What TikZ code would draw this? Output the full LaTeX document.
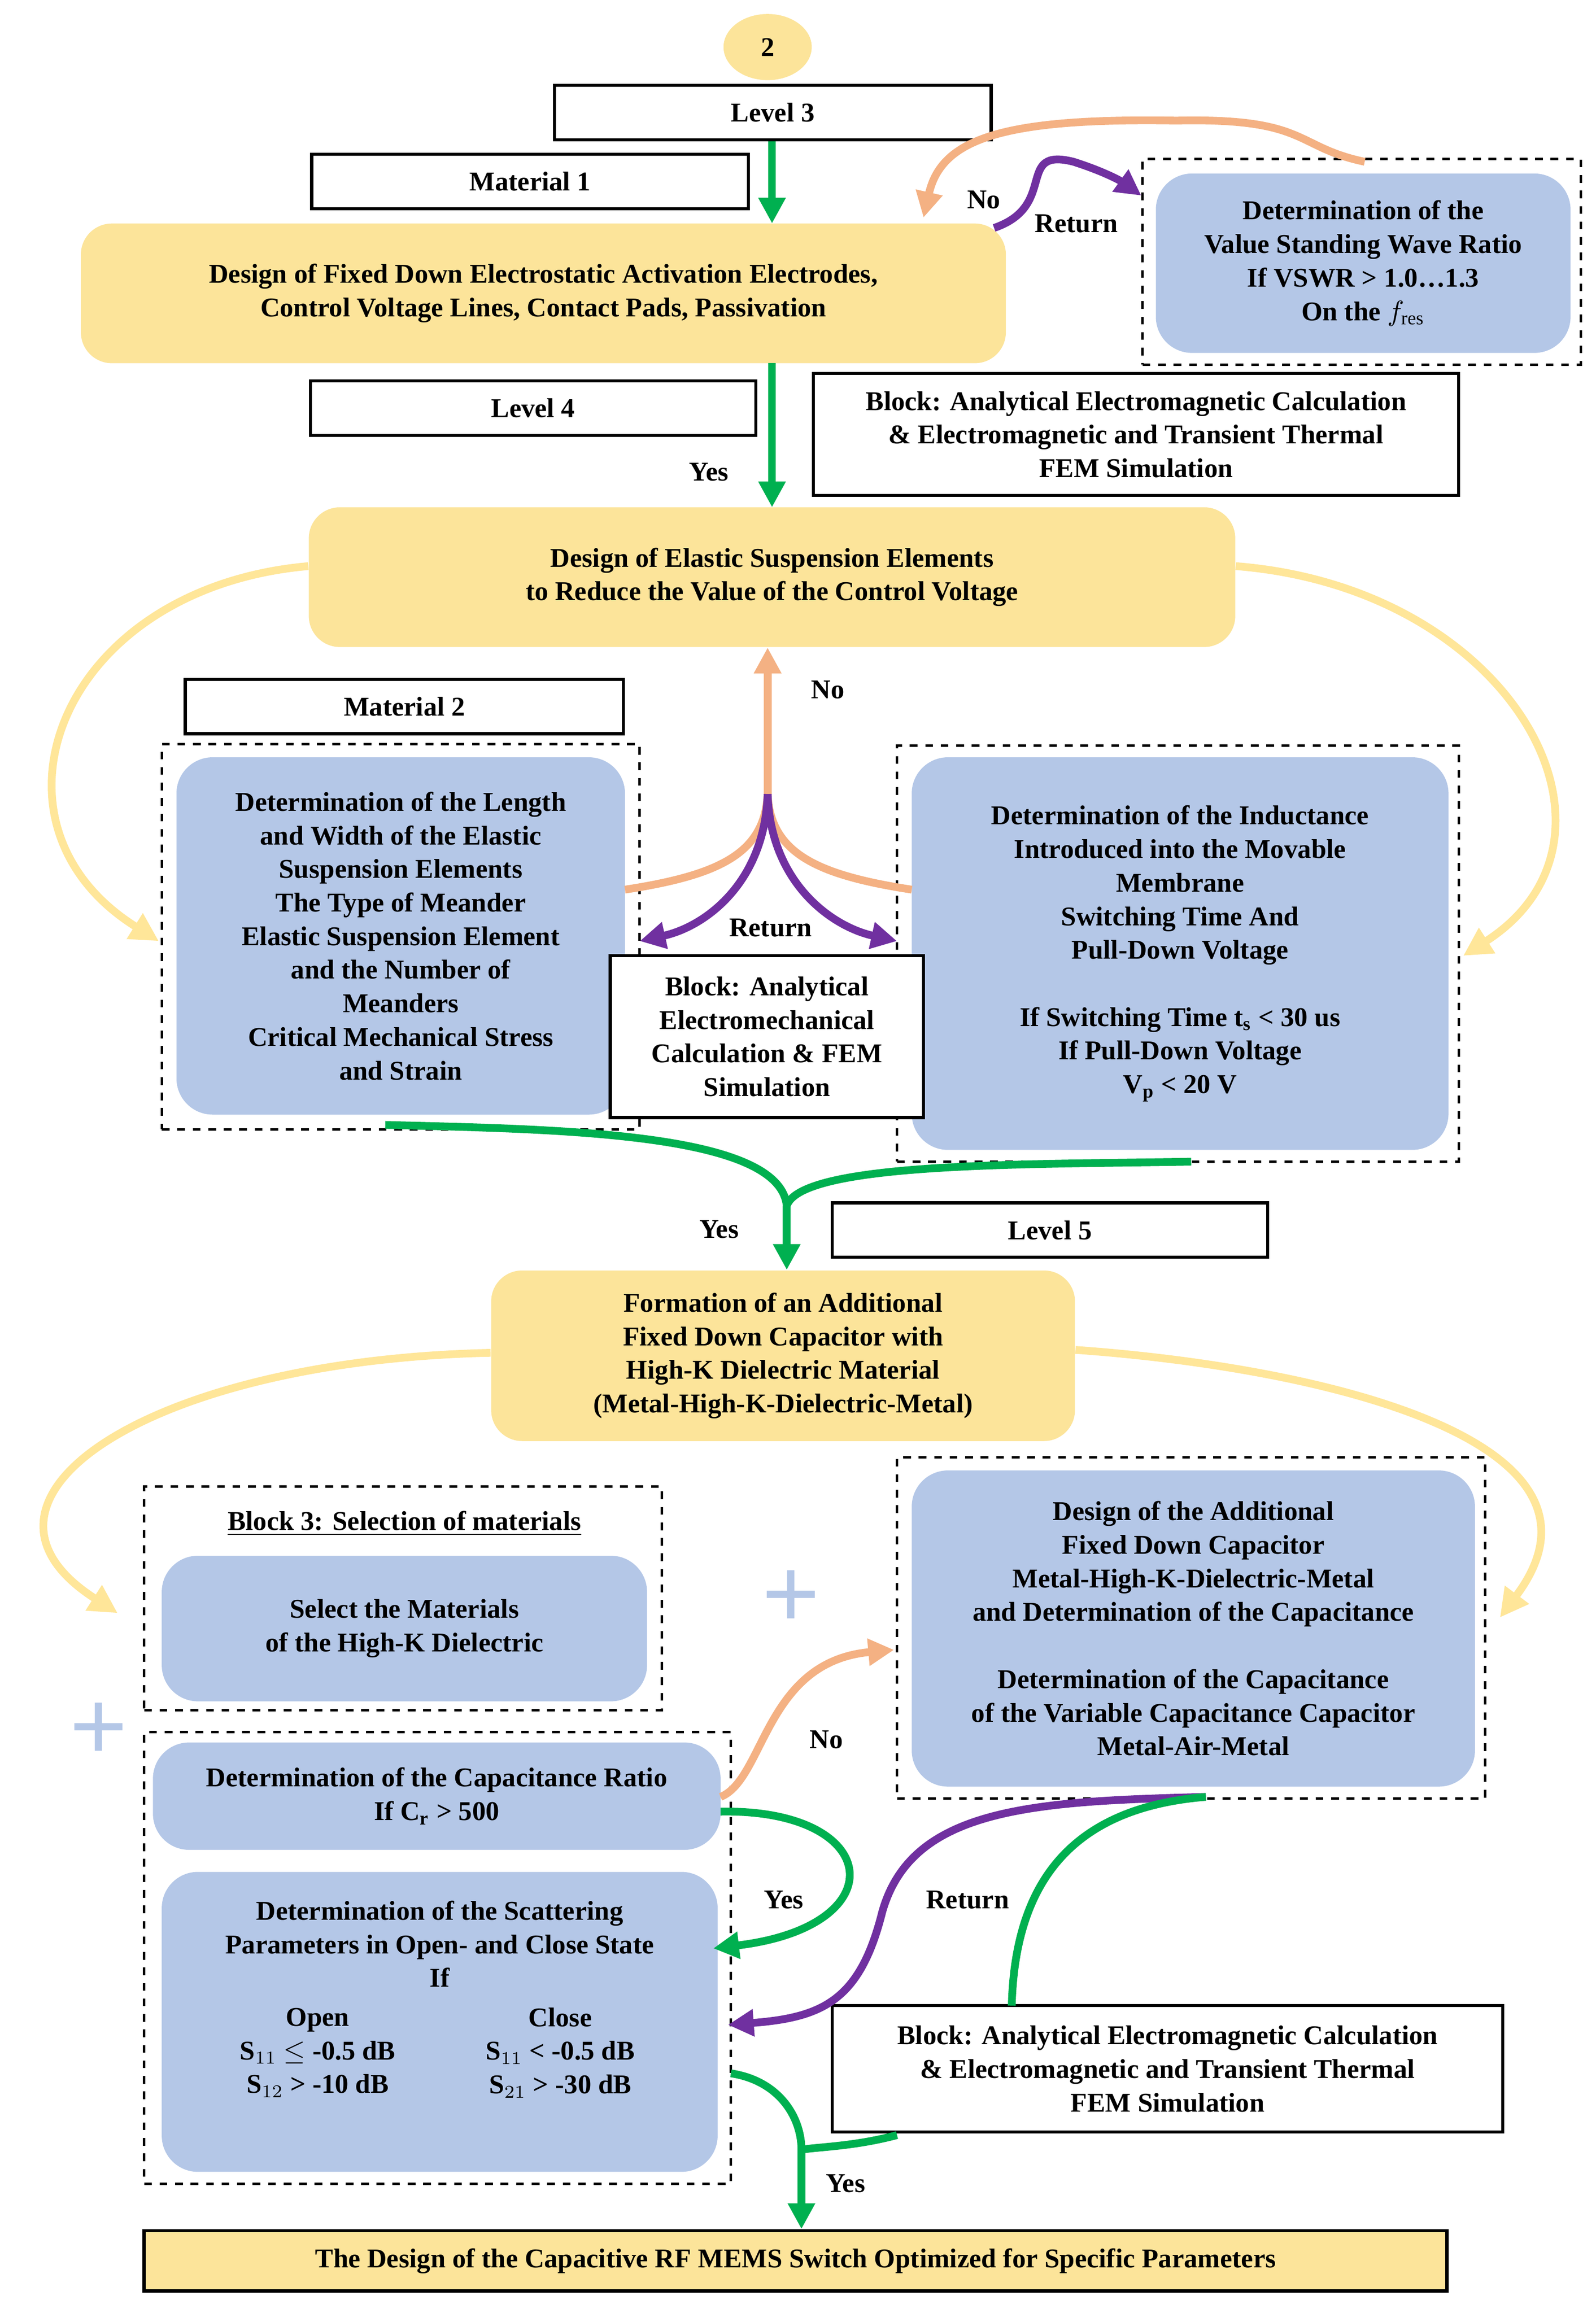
\documentclass[tikz,border=0pt]{standalone}
\usepackage{fontspec}
\setmainfont{Liberation Serif}
\usetikzlibrary{fit,arrows.meta,shapes.geometric}
\definecolor{ylw}{HTML}{FCE49A}
\definecolor{blu}{HTML}{B4C7E7}
\definecolor{grn}{HTML}{00B050}
\definecolor{org}{HTML}{F4B183}
\definecolor{pur}{HTML}{7030A0}
\definecolor{lyl}{HTML}{FFE699}
\newcommand\BX[7]{\node[fit={(#2,#3)(#4,#5)},inner sep=0pt,#6] (#1) {};\node[txt] at (#1.center) {#7};}
\begin{document}
\begin{tikzpicture}[x=0.02cm,y=-0.02cm,
 txt/.style={align=center,font=\fontsize{10.5}{13}\selectfont\bfseries},
 lab/.style={font=\fontsize{10.5}{13}\selectfont\bfseries},
 wb/.style={draw=black,line width=1.2pt,fill=white},
 yb/.style={fill=ylw,rounded corners=12pt},
 bb/.style={fill=blu,rounded corners=14pt},
 db/.style={draw=black,dashed,line width=1pt},
 ga/.style={draw=grn,line width=3pt,-{Triangle[length=10pt,width=10pt]}},
 gl/.style={draw=grn,line width=3pt},
 oa/.style={draw=org,line width=3pt,-{Triangle[length=10pt,width=10pt]}},
 ol/.style={draw=org,line width=3pt},
 pa/.style={draw=pur,line width=3pt,-{Triangle[length=10pt,width=10pt]}},
 ya/.style={draw=lyl,line width=3pt,-{Triangle[length=11pt,width=11pt]}},
 ]
\useasboundingbox[fill=white] (0,0) rectangle (1085,1573);
% top
\node[fill=ylw,ellipse,minimum width=1.2cm,minimum height=0.9cm,lab] (c2) at (522,32) {2};
\BX{l3}{377}{58}{674}{95}{wb}{Level 3}
\BX{m1}{212}{105}{509}{142}{wb}{Material 1}
\BX{y1}{55}{152}{684}{247}{yb}{Design of Fixed Down Electrostatic Activation Electrodes,\\Control Voltage Lines, Contact Pads, Passivation}
\BX{d1}{777}{108}{1075}{248}{db}{}
\BX{v1}{786}{118}{1068}{240}{bb}{Determination of the\\Value Standing Wave Ratio\\If VSWR > 1.0\ldots1.3\\On the $f_{\mathrm{res}}$}
\BX{l4}{211}{259}{514}{296}{wb}{Level 4}
\BX{bk1}{553}{254}{992}{337}{wb}{Block: Analytical Electromagnetic Calculation\\\& Electromagnetic and Transient Thermal\\FEM Simulation}
\node[lab] at (482,321) {Yes};
\draw[ga] (l3.south -| 525,0) -- (525,152);
\draw[ga] (525,247) -- (525,345);
\coordinate (o1) at (928,110);
\draw[oa] (o1) .. controls (880,100) and (890,80) .. (800,82) .. controls (680,80) and (640,95) .. (628,148);
\coordinate (p1) at (676,155);
\draw[pa] (p1) .. controls (720,140) and (690,100) .. (730,110) .. controls (755,118) and (765,125) .. (d1.west |- 0,133);
\node[lab] at (669,136) {No};
\node[lab] at (732,152) {Return};
% level 2
\BX{y2}{210}{345}{840}{440}{yb}{Design of Elastic Suspension Elements\\to Reduce the Value of the Control Voltage}
\draw[ya] (y2.west |- 0,385) .. controls (40,400) and (-20,560) .. (108,640);
\draw[ya] (y2.east |- 0,385) .. controls (1030,400) and (1120,570) .. (995,650);
\BX{m2}{126}{462}{424}{499}{wb}{Material 2}
\BX{d2}{110}{506}{435}{768}{db}{}
\BX{b2}{120}{515}{425}{758}{bb}{Determination of the Length\\and Width of the Elastic\\Suspension Elements\\The Type of Meander\\Elastic Suspension Element\\and the Number of\\Meanders\\Critical Mechanical Stress\\and Strain}
\BX{d3}{610}{507}{992}{790}{db}{}
\BX{b3}{620}{515}{985}{782}{bb}{Determination of the Inductance\\Introduced into the Movable\\Membrane\\Switching Time And\\Pull-Down Voltage\\[13pt]If Switching Time $\mathbf{t_s}$ < 30 us\\If Pull-Down Voltage\\$\mathbf{V_p}$ < 20 V}
\BX{bk2}{415}{650}{628}{760}{wb}{Block: Analytical\\Electromechanical\\Calculation \& FEM\\Simulation}
\coordinate (j1) at (522,540);
\draw[ol] (425,605) .. controls (490,595) and (520,580) .. (j1);
\draw[ol] (620,605) .. controls (555,595) and (524,580) .. (j1);
\draw[oa] (j1) -- (y2.south -| j1);
\node[lab] at (563,469) {No};
\draw[pa] (j1) .. controls (520,600) and (480,630) .. (435,640);
\draw[pa] (j1) .. controls (524,600) and (565,630) .. (610,640);
\node[lab] at (524,631) {Return};
\coordinate (j2) at (535,820);
\draw[gl] (262,765) .. controls (380,768) and (530,770) .. (j2);
\draw[gl] (810,790) .. controls (700,792) and (545,790) .. (j2);
\node[lab] at (489,836) {Yes};
\BX{l5}{566}{818}{862}{855}{wb}{Level 5}
\BX{y3}{334}{864}{731}{980}{yb}{Formation of an Additional\\Fixed Down Capacitor with\\High-K Dielectric Material\\(Metal-High-K-Dielectric-Metal)}
\draw[ga] (j2) -- (y3.north -| j2);
\draw[ya] (y3.west |- 0,920) .. controls (100,925) and (-40,1020) .. (80,1097);
\draw[ya] (y3.east |- 0,918) .. controls (900,930) and (1110,980) .. (1020,1100);
% level 3
\BX{d4}{98}{1011}{450}{1163}{db}{}
\node[lab] at (275,1036) {\underline{Block 3: Selection of materials}};
\BX{b4}{110}{1058}{440}{1157}{bb}{Select the Materials\\of the High-K Dielectric}
\BX{d5}{610}{991}{1010}{1223}{db}{}
\BX{b5}{620}{1000}{1003}{1215}{bb}{Design of the Additional\\Fixed Down Capacitor\\Metal-High-K-Dielectric-Metal\\and Determination of the Capacitance\\[13pt]Determination of the Capacitance\\of the Variable Capacitance Capacitor\\Metal-Air-Metal}
\node[text=blu,font=\fontsize{40}{40}\selectfont\bfseries] (pl1) at (538,1088) {+};
\node[text=blu,font=\fontsize{40}{40}\selectfont\bfseries] (pl2) at (67,1178) {+};
\BX{d6}{98}{1178}{497}{1485}{db}{}
\BX{b6}{104}{1185}{490}{1258}{bb}{Determination of the Capacitance Ratio\\If $\mathbf{C_r}$ > 500}
\BX{b7}{110}{1273}{488}{1477}{bb}{}
\node[txt] at (299,1322) {Determination of the Scattering\\Parameters in Open- and Close State\\If};
\node[txt] at (216,1396) {Open\\S$_{11}$ $\le$ -0.5 dB\\S$_{12}$ > -10 dB};
\node[txt] at (381,1396) {Close\\S$_{11}$ < -0.5 dB\\S$_{21}$ > -30 dB};
\draw[oa] (490,1222) .. controls (520,1210) and (520,1130) .. (608,1122);
\node[lab] at (562,1183) {No};
\draw[ga] (490,1232) .. controls (600,1230) and (610,1310) .. (485,1325);
\node[lab] at (533,1292) {Yes};
\BX{bk3}{566}{1364}{1022}{1450}{wb}{Block: Analytical Electromagnetic Calculation\\\& Electromagnetic and Transient Thermal\\FEM Simulation}
\coordinate (r1) at (820,1222);
\draw[pa] (r1) .. controls (700,1225) and (620,1230) .. (600,1300) .. controls (585,1360) and (560,1372) .. (495,1377);
\node[lab] at (658,1292) {Return};
\draw[gl] (r1) .. controls (720,1230) and (690,1290) .. (688,1364);
\coordinate (j3) at (545,1462);
\draw[gl] (497,1410) .. controls (530,1415) and (545,1440) .. (j3);
\draw[gl] (610,1452) .. controls (580,1460) and (555,1460) .. (j3);
\node[lab] at (575,1485) {Yes};
\BX{fin}{98}{1517}{984}{1558}{wb,fill=ylw}{The Design of the Capacitive RF MEMS Switch Optimized for Specific Parameters}
\draw[ga] (j3) -- (fin.north -| j3);
\end{tikzpicture}
\end{document}
